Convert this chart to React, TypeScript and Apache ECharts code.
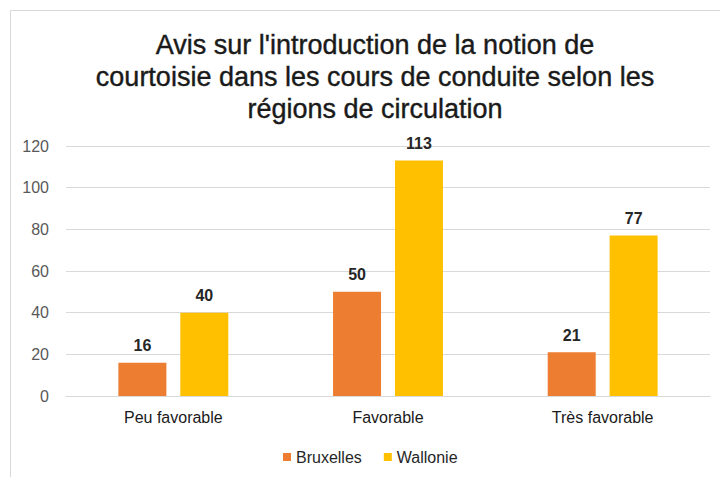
import React, { useEffect, useRef } from "react";
import * as echarts from "echarts";

const categories = ["Peu favorable", "Favorable", "Très favorable"];
const seriesNames = ["Bruxelles", "Wallonie"];
const bruxelles = [16, 50, 21];
const wallonie = [40, 113, 77];
const colors = ["#ED7D31", "#FFC000"];
const titleText =
  "Avis sur l'introduction de la notion de\ncourtoisie dans les cours de conduite selon les\nrégions de circulation";

export default function App() {
  const ref = useRef<HTMLDivElement>(null);
  useEffect(() => {
    if (!ref.current) return;
    const chart = echarts.init(ref.current, null, { renderer: "svg" });
    const font = "'Liberation Sans', Arial, sans-serif";
    chart.setOption({
      animation: false,
      backgroundColor: "#ffffff",
      textStyle: { fontFamily: font },
      title: {
        text: titleText,
        left: 370,
        top: 24,
        textAlign: "center",
        textStyle: {
          fontFamily: font,
          fontSize: 27,
          fontWeight: "normal",
          color: "#1a1a1a",
          lineHeight: 32,
          textBorderColor: "#1a1a1a",
          textBorderWidth: 0.4,
        },
      },
      graphic: [
        { type: "line", shape: { x1: 10, y1: 10.5, x2: 720, y2: 10.5 }, style: { stroke: "#d9d9d9", lineWidth: 1 } },
        { type: "line", shape: { x1: 10.5, y1: 10, x2: 10.5, y2: 477 }, style: { stroke: "#d9d9d9", lineWidth: 1 } },
      ],
      grid: { left: 66, right: 10, top: 146, bottom: 81 },
      legend: {
        data: seriesNames,
        bottom: 12,
        left: 283,
        padding: 0,
        itemWidth: 8,
        itemHeight: 8,
        itemGap: 22,
        icon: "rect",
        textStyle: { fontFamily: font, fontSize: 16, color: "#262626", padding: [0, 0, 0, 0] },
      },
      xAxis: {
        type: "category",
        data: categories,
        axisLine: { show: true, lineStyle: { color: "#d9d9d9" } },
        axisTick: { show: false },
        axisLabel: { fontFamily: font, fontSize: 16, color: "#1a1a1a", margin: 13 },
      },
      yAxis: {
        type: "value",
        min: 0,
        max: 120,
        interval: 20,
        axisLine: { show: false },
        axisTick: { show: false },
        splitLine: { lineStyle: { color: "#d9d9d9" } },
        axisLabel: { fontFamily: font, fontSize: 16, color: "#595959", margin: 17 },
      },
      series: [
        {
          name: seriesNames[0],
          type: "bar",
          data: bruxelles,
          itemStyle: { color: colors[0] },
          barWidth: 48,
          barGap: "29%",
          label: { show: true, position: "top", distance: 9, fontFamily: font, fontSize: 16, fontWeight: "bold", color: "#262626" },
        },
        {
          name: seriesNames[1],
          type: "bar",
          data: wallonie,
          itemStyle: { color: colors[1] },
          barWidth: 48,
          barGap: "29%",
          label: { show: true, position: "top", distance: 9, fontFamily: font, fontSize: 16, fontWeight: "bold", color: "#262626" },
        },
      ],
    });
    return () => chart.dispose();
  }, []);
  return <div ref={ref} style={{ width: 720, height: 477, position: "absolute", left: 0, top: 0 }} />;
}
